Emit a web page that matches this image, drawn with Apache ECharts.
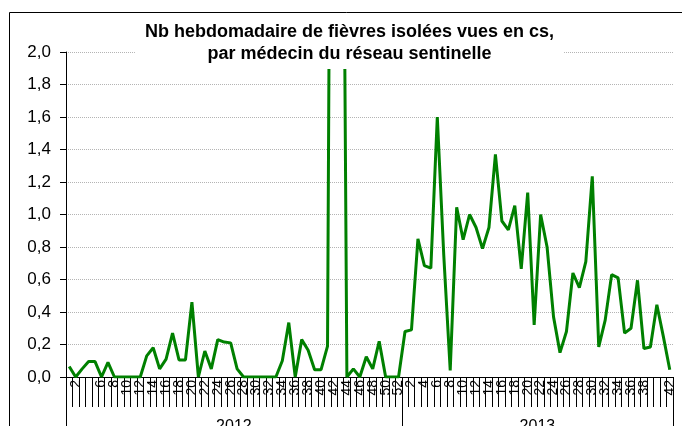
<!DOCTYPE html>
<html>
<head>
<meta charset="utf-8">
<script src="https://cdn.jsdelivr.net/npm/echarts@6/dist/echarts.min.js"></script>
<style>
  html, body { margin: 0; padding: 0; background: #fff; }
  #main { width: 682px; height: 426px; }
</style>
</head>
<body>
<div id="main"></div>
<script>
// fièvres isolées par médecin, semaines 2012 puis 2013
var years = ['2012', '2013'];
var weeksInYear = [52, 42];

var values2012 = [
  0.065, 0, 0.05, 0.095, 0.095, 0, 0.09, 0, 0, 0,
  0, 0, 0.13, 0.18, 0.05, 0.11, 0.27, 0.105, 0.105, 0.46,
  0, 0.16, 0.05, 0.23, 0.215, 0.21, 0.05, 0, 0, 0,
  0, 0, 0, 0.1, 0.335, 0, 0.23, 0.165, 0.045, 0.045,
  0.19, 8, 6, 0, 0.05, 0, 0.125, 0.05, 0.22, 0,
  0, 0
];
var values2013 = [
  0.28, 0.29, 0.85, 0.685, 0.67, 1.6, 0.75, 0.04, 1.045, 0.845,
  1.0, 0.92, 0.79, 0.92, 1.37, 0.96, 0.905, 1.055, 0.665, 1.135,
  0.32, 1.0, 0.8, 0.37, 0.15, 0.28, 0.64, 0.55, 0.71, 1.235,
  0.185, 0.35, 0.63, 0.61, 0.27, 0.3, 0.595, 0.175, 0.185, 0.445,
  0.25, 0.045
];
var yTicks = [0, 0.2, 0.4, 0.6, 0.8, 1.0, 1.2, 1.4, 1.6, 1.8, 2.0];

// catégories uniques "année-semaine"
var categories = [];
for (var y = 0; y < years.length; y++) {
  for (var w = 1; w <= weeksInYear[y]; w++) {
    categories.push(years[y] + '-' + w);
  }
}
var values = values2012.concat(values2013);
var total = categories.length;
var yearMid = [weeksInYear[0] / 2, weeksInYear[0] + weeksInYear[1] / 2];

var myChart = echarts.init(document.getElementById('main'));
var font = 'Liberation Sans, Arial, sans-serif';

var option = {
  animation: false,
  backgroundColor: '#fff',
  textStyle: { fontFamily: font },
  graphic: [{
    type: 'rect',
    silent: true,
    z: -10,
    shape: { x: 9.5, y: 12.5, width: 700, height: 500 },
    style: { fill: 'none', stroke: '#000', lineWidth: 1 }
  }],
  title: {
    text: 'Nb hebdomadaire de fièvres isolées vues en cs,\npar médecin du réseau sentinelle',
    left: 339.5,
    top: 16,
    textAlign: 'center',
    textVerticalAlign: 'top',
    padding: [5, 10, 4, 10],
    backgroundColor: '#fff',
    textStyle: {
      fontFamily: font,
      fontSize: 18,
      fontWeight: 'bold',
      lineHeight: 22,
      color: '#000'
    }
  },
  grid: { left: 66, right: 9, top: 52, bottom: 49, outerBoundsMode: 'none' },
  xAxis: [
    {
      type: 'category',
      data: categories,
      boundaryGap: true,
      axisLine: { show: true, lineStyle: { color: '#000', width: 1 } },
      axisTick: { show: true, interval: 0, length: 30, lineStyle: { color: '#000' } },
      axisLabel: {
        interval: function (i) { return i % 2 === 1; },
        hideOverlap: false,
        showMinLabel: true,
        showMaxLabel: true,
        rotate: 90,
        margin: 3,
        fontSize: 14,
        color: '#000',
        fontFamily: font,
        formatter: function (v) { return v.split('-')[1]; }
      },
      splitLine: { show: false }
    },
    {
      type: 'value',
      position: 'bottom',
      min: 0,
      max: total,
      axisLine: { show: false },
      axisTick: {
        show: true,
        length: 50,
        customValues: [0, weeksInYear[0], total],
        lineStyle: { color: '#000' }
      },
      axisLabel: {
        customValues: yearMid,
        margin: 42,
        fontSize: 16,
        color: '#000',
        fontFamily: font,
        formatter: function (v) { return v < weeksInYear[0] ? years[0] : years[1]; }
      },
      splitLine: { show: false }
    }
  ],
  yAxis: {
    type: 'value',
    min: yTicks[0],
    max: yTicks[yTicks.length - 1],
    interval: 0.2,
    axisLine: { show: true, lineStyle: { color: '#000', width: 1 } },
    axisTick: { show: true, length: 6, lineStyle: { color: '#000' } },
    axisLabel: {
      margin: 15,
      fontSize: 17,
      color: '#000',
      fontFamily: font,
      formatter: function (v) { return v.toFixed(1).replace('.', ','); }
    },
    splitLine: { show: true, lineStyle: { color: '#b4b4b4', type: 'dotted', width: 1 } }
  },
  series: [{
    type: 'line',
    xAxisIndex: 0,
    data: values,
    showSymbol: false,
    symbol: 'none',
    clip: true,
    lineStyle: { color: '#008000', width: 3 },
    itemStyle: { color: '#008000' }
  }]
};

myChart.setOption(option);
</script>
</body>
</html>
